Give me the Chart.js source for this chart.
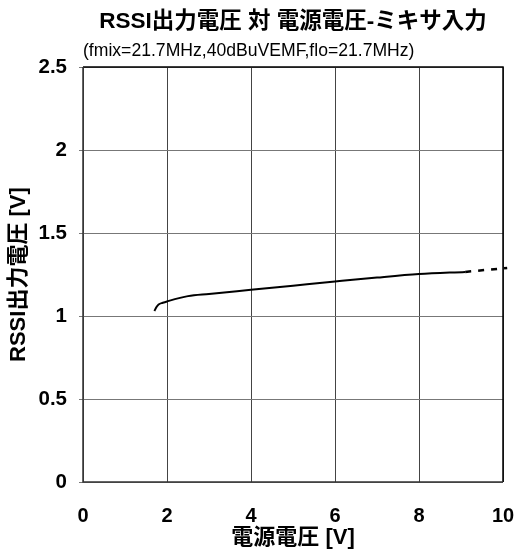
<!DOCTYPE html>
<html>
<head>
<meta charset="utf-8">
<script src="https://cdn.jsdelivr.net/npm/chart.js@4/dist/chart.umd.min.js"></script>
<style>
  html, body { margin: 0; padding: 0; background: #fff; }
  #wrap { width: 519px; height: 553px; position: relative; }
</style>
</head>
<body>
<div id="wrap"><canvas id="c" width="519" height="553"></canvas></div>
<script>
// Data
const supplyV = [1.7, 1.75, 1.8, 1.9, 2.0, 2.5, 3, 4, 5, 6, 7, 8, 9.1];
const rssiV   = [1.03, 1.055, 1.07, 1.08, 1.088, 1.12, 1.133, 1.158, 1.183, 1.208, 1.232, 1.253, 1.266];
const extSupplyV = [9.1, 10.1];
const extRssiV   = [1.266, 1.29];
const xTicks = [0, 2, 4, 6, 8, 10];
const yTicks = [0, 0.5, 1, 1.5, 2, 2.5];

const FONT = "'Liberation Sans', Arial, 'Noto Sans CJK JP', sans-serif";

const solidData = supplyV.map((x, i) => ({x, y: rssiV[i]}));
const dashData = extSupplyV.map((x, i) => ({x, y: extRssiV[i]}));

const framePlugin = {
  id: 'frame',
  afterDraw(chart) {
    const {ctx, chartArea: a} = chart;
    ctx.save();
    ctx.strokeStyle = '#000';
    ctx.lineWidth = 1.5;
    ctx.beginPath();
    ctx.moveTo(a.left, a.top);
    ctx.lineTo(a.right, a.top);
    ctx.lineTo(a.right, a.bottom);
    ctx.stroke();
    ctx.strokeStyle = '#333';
    ctx.beginPath();
    ctx.moveTo(a.left, a.top);
    ctx.lineTo(a.left, a.bottom);
    ctx.lineTo(a.right, a.bottom);
    ctx.stroke();
    ctx.restore();
  }
};

new Chart(document.getElementById('c'), {
  type: 'scatter',
  data: {
    datasets: [
      {
        data: solidData, showLine: true, borderColor: '#000', borderWidth: 2,
        pointRadius: 0, cubicInterpolationMode: 'monotone', fill: false
      },
      {
        data: dashData, showLine: true, borderColor: '#000', borderWidth: 2.5,
        borderDash: [6, 7], pointRadius: 0, fill: false, clip: false
      }
    ]
  },
  options: {
    responsive: false,
    animation: false,
    layout: { padding: { left: 0, right: 16, top: 0, bottom: 0 } },
    plugins: {
      legend: { display: false },
      tooltip: { enabled: false },
      title: {
        display: true, fullSize: false,
        text: 'RSSI出力電圧 対 電源電圧-ミキサ入力',
        color: '#000',
        font: { family: FONT, size: 22.5, weight: 'bold' },
        padding: { top: 8, bottom: 4 }
      },
      subtitle: {
        display: true, fullSize: false, align: 'start',
        text: '(fmix=21.7MHz,40dBuVEMF,flo=21.7MHz)',
        color: '#000',
        font: { family: FONT, size: 17.6 },
        padding: { top: 2, bottom: 5 }
      }
    },
    scales: {
      x: {
        type: 'linear', min: 0, max: 10,
        afterBuildTicks(scale) { scale.ticks = xTicks.map(v => ({value: v})); },
        afterFit(scale) { scale.height = 71; scale.paddingLeft = 0; scale.paddingRight = 0; },
        ticks: { color: '#000', font: { family: FONT, size: 20, weight: 'bold' }, padding: 22, maxRotation: 0,
                 callback: v => String(v) },
        grid: { color: '#444', lineWidth: 1, drawTicks: false },
        border: { display: false },
        title: {
          display: true, text: '電源電圧 [V]', color: '#000',
          font: { family: FONT, size: 22, weight: 'bold' },
          padding: { top: 0, bottom: 2 }
        }
      },
      y: {
        type: 'linear', min: 0, max: 2.5,
        afterBuildTicks(scale) { scale.ticks = yTicks.map(v => ({value: v})); },
        afterFit(scale) { scale.width = 83; scale.paddingTop = 0; scale.paddingBottom = 0; },
        ticks: { color: '#000', font: { family: FONT, size: 20.5, weight: 'bold' }, padding: 12,
                 callback: v => String(v) },
        grid: { color: '#777', lineWidth: 1, tickLength: 4 },
        border: { display: false },
        title: {
          display: true, text: 'RSSI出力電圧 [V]', color: '#000',
          font: { family: FONT, size: 22, weight: 'bold' },
          padding: { top: 6, bottom: 0 }
        }
      }
    }
  },
  plugins: [framePlugin]
});
</script>
</body>
</html>
